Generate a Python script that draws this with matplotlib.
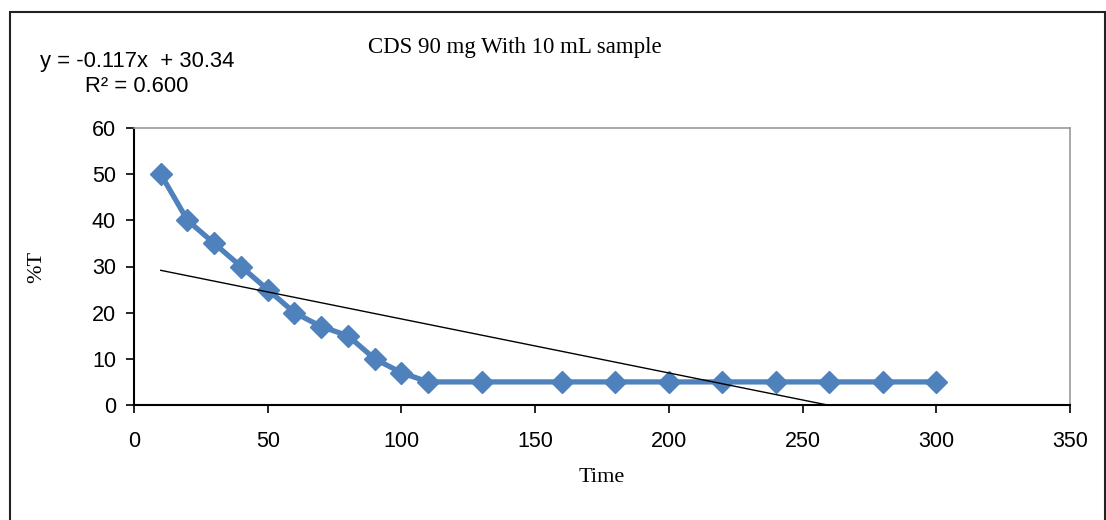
import numpy as np
import matplotlib.pyplot as plt
from matplotlib.patches import Rectangle

# data
time = [10, 20, 30, 40, 50, 60, 70, 80, 90, 100,
        110, 130, 160, 180, 200, 220, 240, 260, 280, 300]
pct_t = [50, 40, 35, 30, 25, 20, 17, 15, 10, 7,
         5, 5, 5, 5, 5, 5, 5, 5, 5, 5]
slope = -0.117
intercept = 30.34
r2 = 0.600

BLUE = "#4F81BD"
SANS = "Liberation Sans"
SERIF = "Liberation Serif"

fig = plt.figure(figsize=(11.06, 5.2), dpi=100)

# outer chart frame
fig.patches.append(Rectangle((9.5 / 1106, -0.1), 1095 / 1106, 1.1 - 12 / 520,
                             transform=fig.transFigure, fill=False,
                             edgecolor="#222222", linewidth=1.5))

ax = fig.add_axes([134 / 1106, 1 - 405 / 520, 936 / 1106, 277 / 520])

# trendline, clipped at the x axis like in the source
tx = np.array([time[0], time[-1]])
ax.plot(tx, slope * tx + intercept, color="black", linewidth=1.0, zorder=3)
ax.plot(time, pct_t, color=BLUE, linewidth=3.8, marker="D", markersize=11.5,
        markerfacecolor=BLUE, markeredgecolor=BLUE, zorder=2)

ax.set_xlim(0, 350)
ax.set_ylim(0, 60)
ax.set_xticks(np.arange(0, 351, 50))
ax.set_yticks(np.arange(0, 61, 10))
ax.tick_params(direction="out", length=6, width=1.2, color="black",
               labelsize=15.5)
ax.tick_params(axis="x", pad=13)
ax.tick_params(axis="y", pad=7)
for lab in ax.get_xticklabels() + ax.get_yticklabels():
    lab.set_fontfamily(SANS)

for s in ["top", "right"]:
    ax.spines[s].set_color("#999999")
    ax.spines[s].set_linewidth(1.2)
for s in ["left", "bottom"]:
    ax.spines[s].set_color("black")
    ax.spines[s].set_linewidth(1.5)

ax.set_xlabel("Time", fontfamily=SERIF, fontsize=16, labelpad=11)
ax.set_ylabel("%T", fontfamily=SERIF, fontsize=16, labelpad=33)

fig.text(515 / 1106, 1 - 48 / 520, "CDS 90 mg With 10 mL sample",
         fontfamily=SERIF, fontsize=16.5, ha="center", va="center")
fig.text(40 / 1106, 1 - 61 / 520, f"y = {slope:.3f}x  + {intercept:.2f}",
         fontfamily=SANS, fontsize=15.8, ha="left", va="center")
fig.text(85 / 1106, 1 - 86 / 520, f"R² = {r2:.3f}",
         fontfamily=SANS, fontsize=15.8, ha="left", va="center")

fig.savefig("out.png", dpi=100)
